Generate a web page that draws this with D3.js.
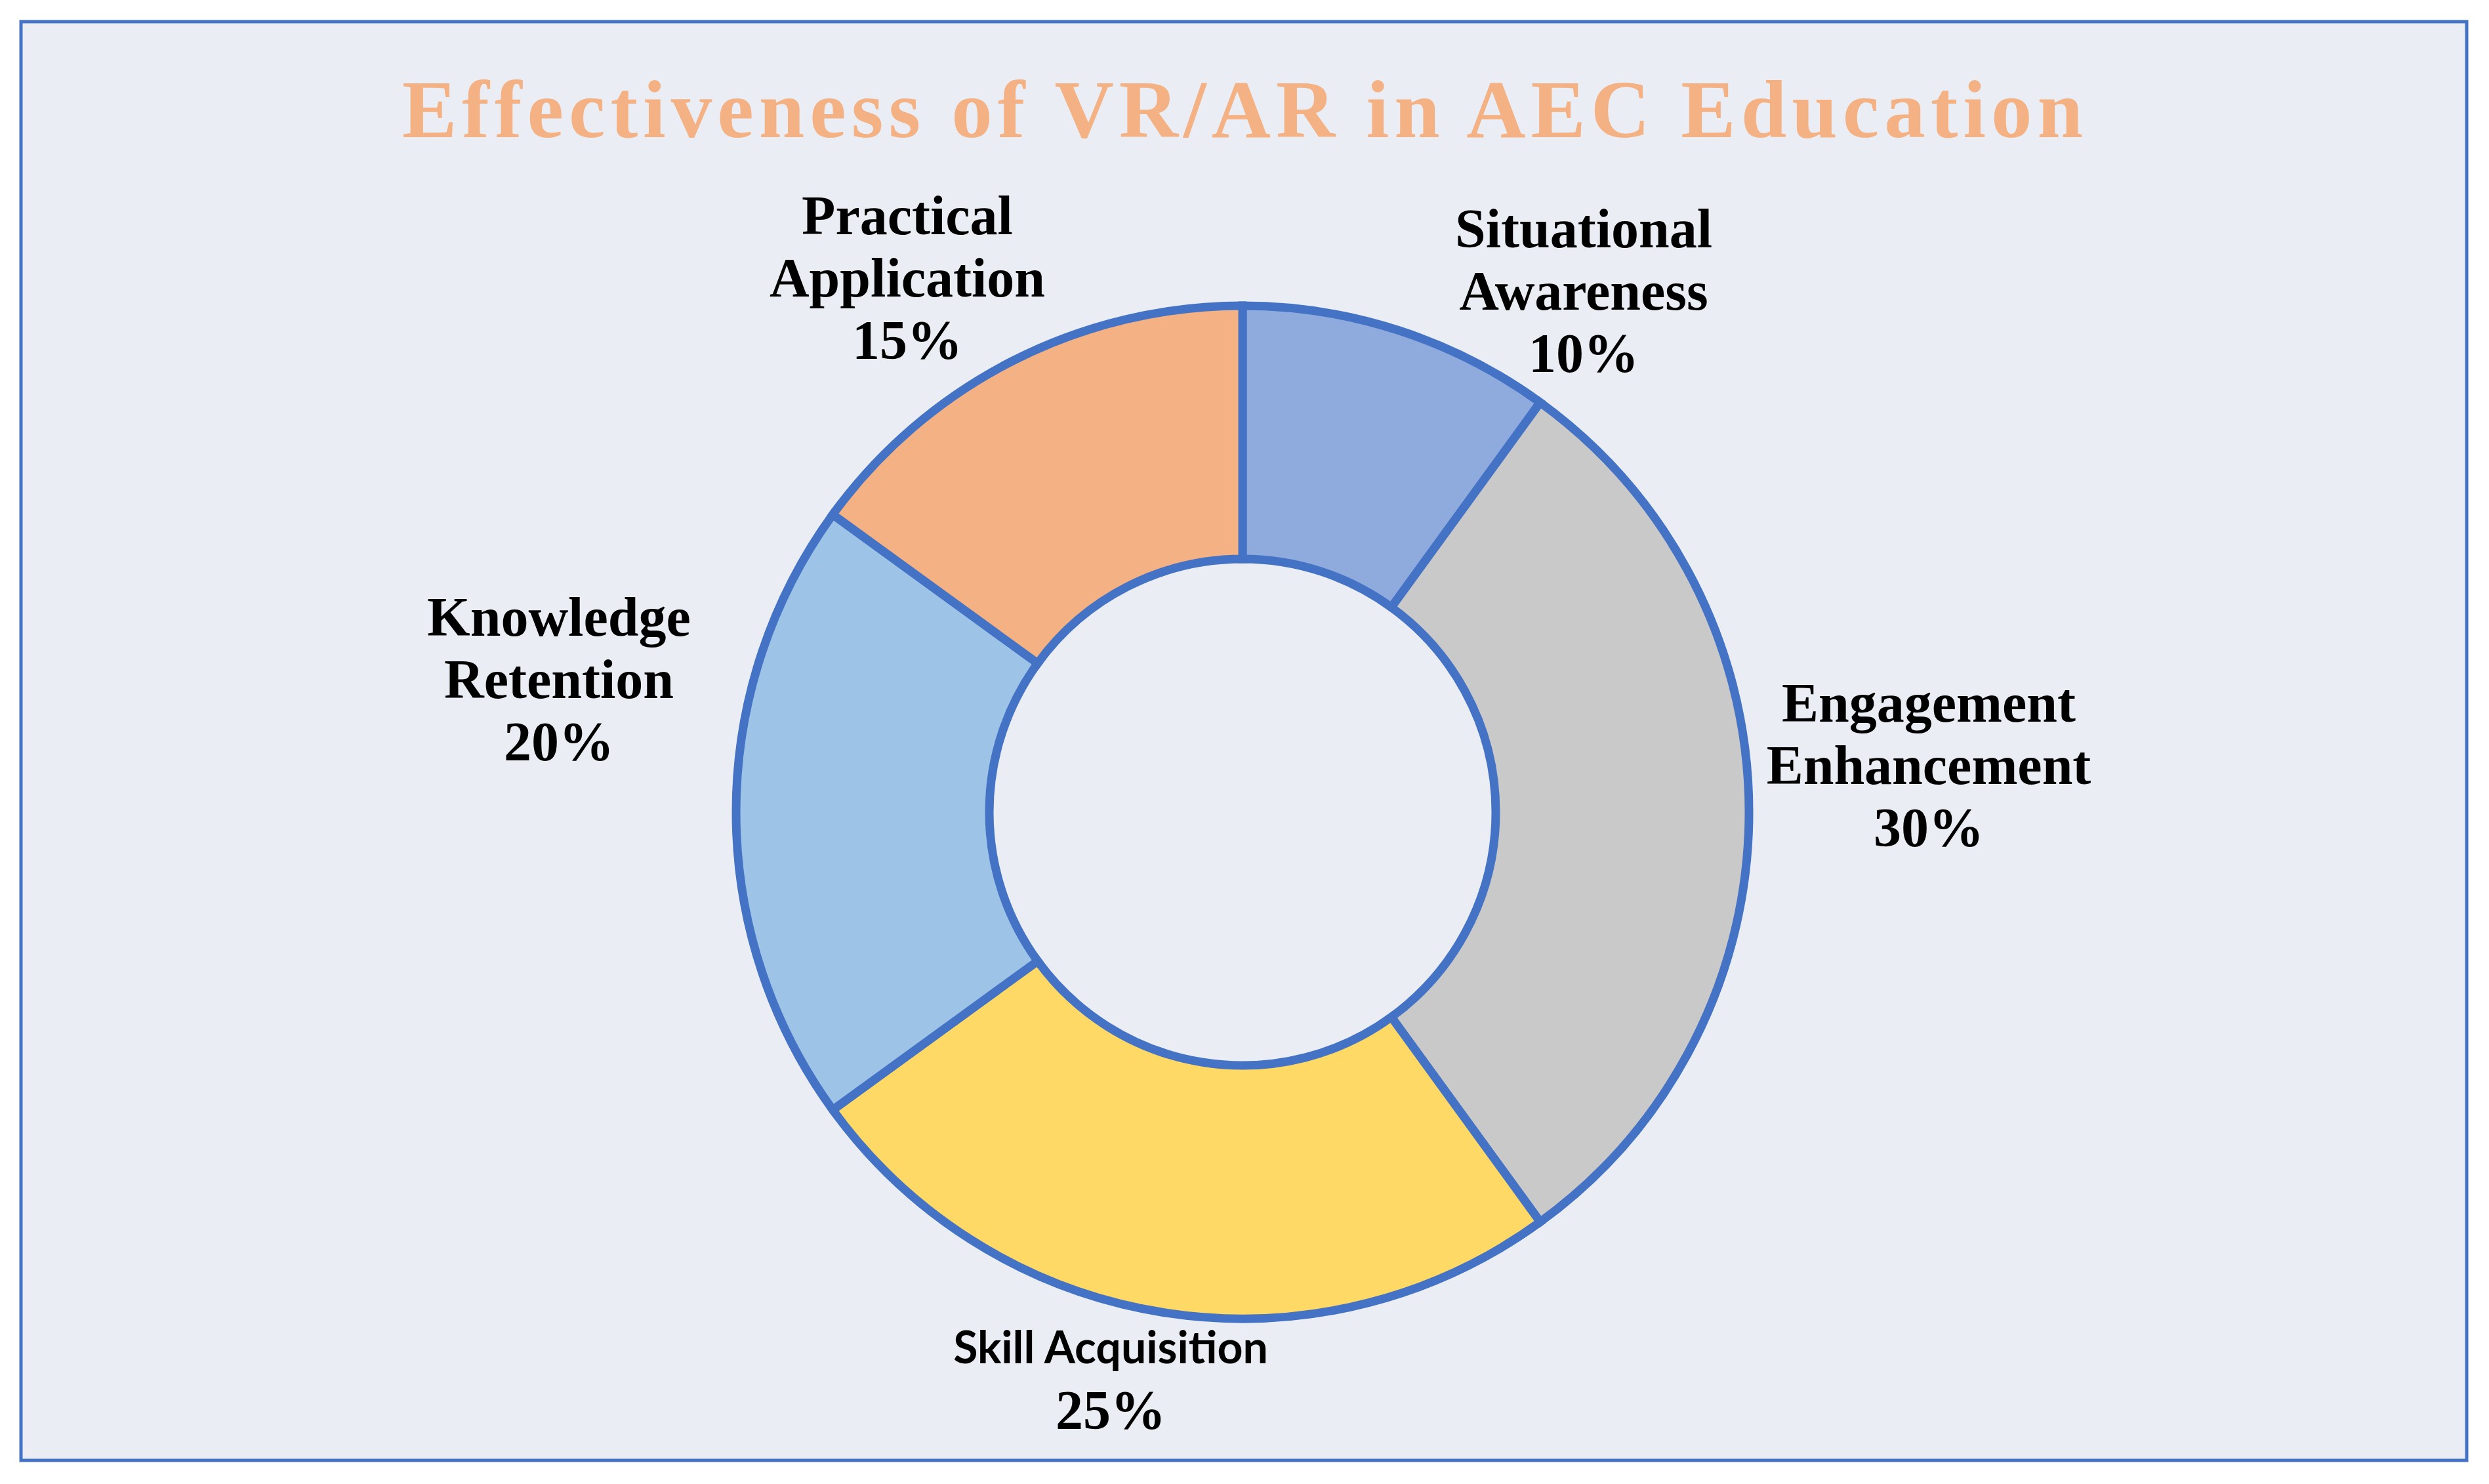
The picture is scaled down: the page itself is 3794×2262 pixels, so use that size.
<!DOCTYPE html>
<html>
<head>
<meta charset="utf-8">
<script src="https://cdn.jsdelivr.net/npm/d3@7"></script>
<style>
  html, body { margin: 0; padding: 0; background: #ffffff; }
  svg { display: block; }
</style>
</head>
<body>
<div id="chart"></div>
<script>
// data
const categories = ["Situational Awareness", "Engagement Enhancement", "Skill Acquisition", "Knowledge Retention", "Practical Application"];
const labelLines = [["Situational", "Awareness"], ["Engagement", "Enhancement"], ["Skill Acquisition"], ["Knowledge", "Retention"], ["Practical", "Application"]];
const shares = [10, 30, 25, 20, 15];
const sliceColors = ["#8FAADC", "#C9C9C9", "#FFD966", "#9DC3E6", "#F4B183"];
const title = "Effectiveness of VR/AR in AEC Education";

// label anchor offsets from donut centre (layout only)
const labelOffsets = [[520, -861], [1046, -138], [-201, 840], [-1042, -269], [-511, -881]];

const width = 3794, height = 2262;
const cx = 1894, cy = 1238;
const outerR = 772, innerR = 386;
const lineGap = 95;

const svg = d3.select("#chart").append("svg")
    .attr("width", width)
    .attr("height", height);

svg.append("rect")
    .attr("x", 32).attr("y", 33)
    .attr("width", 3728).attr("height", 2193)
    .style("fill", "#EAEEF4")
    .style("stroke", "#4472C4")
    .style("stroke-width", 5);

svg.append("text")
    .attr("x", cx + 4)
    .attr("y", 209)
    .attr("text-anchor", "middle")
    .style("font-family", "'Liberation Serif', 'Times New Roman', serif")
    .style("font-weight", "bold")
    .style("font-size", "125px")
    .style("letter-spacing", "8px")
    .style("fill", "#F4B183")
    .text(title);

const pie = d3.pie().sort(null).value(d => d);
const arc = d3.arc().innerRadius(innerR).outerRadius(outerR);
const arcs = pie(shares);

const g = svg.append("g").attr("transform", `translate(${cx},${cy})`);
g.selectAll("path")
    .data(arcs)
    .join("path")
    .attr("d", arc)
    .style("fill", (d, i) => sliceColors[i])
    .style("stroke", "#4472C4")
    .style("stroke-width", 13)
    .style("stroke-linejoin", "miter");

const serif = "'Liberation Serif', 'Times New Roman', serif";
arcs.forEach((d, i) => {
    const [dx, dy] = labelOffsets[i];
    const lab = g.append("text")
        .attr("text-anchor", "middle")
        .style("fill", "#000000")
        .style("font-weight", "bold");
    const lines = labelLines[i];
    const isSans = i === 2;
    lines.forEach((ln, k) => {
        const t = lab.append("tspan")
            .attr("x", dx)
            .attr("y", dy + k * lineGap)
            .style("font-family", isSans ? "Lato, 'Open Sans', sans-serif" : serif)
            .style("font-size", isSans ? "68px" : "84px")
            .text(ln);
    });
    lab.append("tspan")
        .attr("x", dx)
        .attr("y", dy + lines.length * (isSans ? 100 : lineGap))
        .style("font-family", serif)
        .style("font-size", "84px")
        .text(d.data + "%");
});
</script>
</body>
</html>
